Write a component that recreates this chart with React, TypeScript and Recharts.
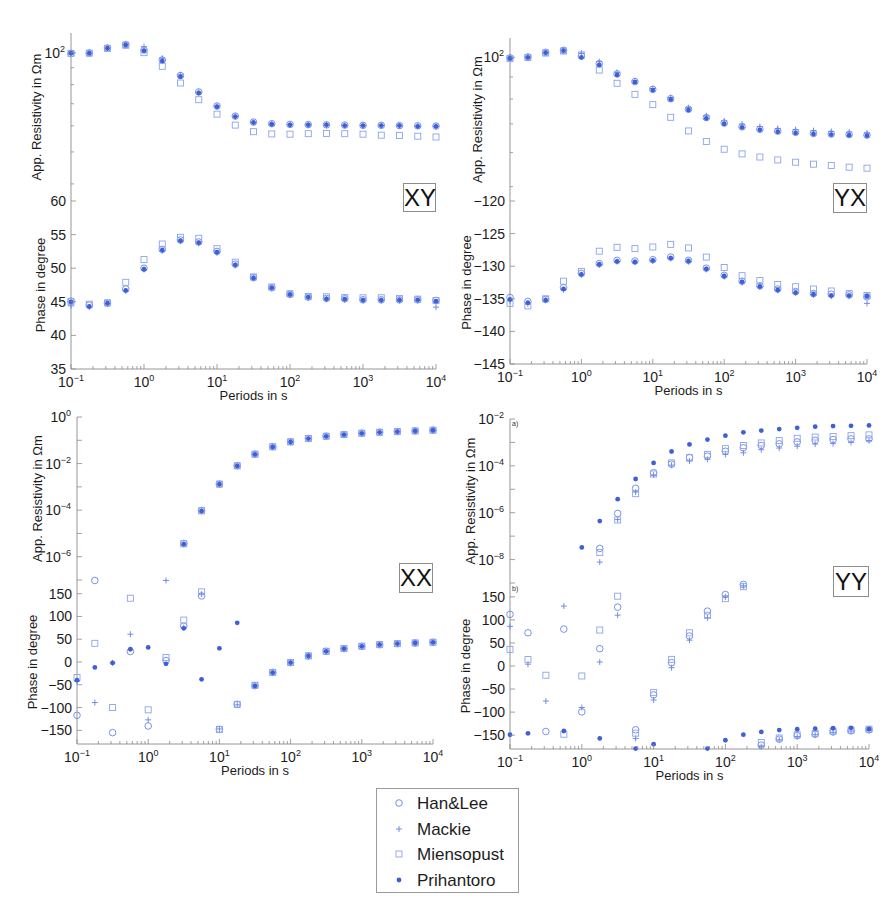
import React from 'react';
import { ScatterChart, Scatter, XAxis, YAxis } from 'recharts';

const FONT = '"Liberation Sans", Arial, Helvetica, sans-serif';
const AXIS_COLOR = '#8a8a8a';
const TEXT_COLOR = '#1c1c1c';

const COLORS = {
  hanLee: '#6a86e6',
  mackie: '#6381e6',
  miensopust: '#8ba3ee',
  prihantoro: '#3f5fd6',
};

// periods (s), 4 per decade
const periods = [0.1, 0.178, 0.316, 0.562, 1, 1.78, 3.16, 5.62, 10, 17.8, 31.6, 56.2, 100, 178, 316, 562, 1000, 1780, 3160, 5620, 10000];
const periodMajorTicks = [0.1, 1, 10, 100, 1000, 10000];

// ---- XY ----
const xyRhoHanLee = [99.4, 99.8, 103.3, 105.7, 101.8, 95.0, 85.2, 76.0, 68.9, 64.2, 61.6, 60.9, 60.6, 60.5, 60.4, 60.3, 60.2, 60.2, 60.1, 60.0, 59.9];
const xyRhoMackie = [99.5, 99.7, 103.2, 105.9, 104.3, 96.2, 85.6, 75.8, 68.8, 64.1, 61.5, 60.8, 60.5, 60.4, 60.3, 60.2, 60.1, 60.1, 60.0, 59.9, 59.8];
const xyRhoMiensopust = [99.5, 99.6, 103.0, 105.3, 100.0, 90.9, 80.9, 72.0, 65.1, 60.3, 57.6, 56.7, 56.6, 56.8, 56.9, 56.8, 56.6, 56.2, 56.1, 55.8, 55.5];
const xyRhoPrihantoro = [99.6, 99.6, 103.1, 105.5, 101.4, 94.4, 84.6, 75.5, 68.6, 64.0, 61.4, 60.7, 60.4, 60.4, 60.4, 60.1, 60.1, 60.1, 60.1, 59.8, 59.8];

const xyPhaseHanLee = [45.1, 44.5, 44.8, 46.9, 50.0, 52.8, 54.2, 53.9, 52.5, 50.6, 48.6, 47.1, 46.1, 45.7, 45.5, 45.45, 45.3, 45.3, 45.3, 45.3, 45.2];
const xyPhaseMackie = [44.4, 44.2, 44.7, 46.6, 49.8, 52.6, 54.0, 53.7, 52.3, 50.4, 48.5, 47.0, 46.0, 45.6, 45.4, 45.3, 45.2, 45.2, 45.2, 45.2, 44.2];
const xyPhaseMiensopust = [45.0, 44.65, 44.85, 47.9, 51.3, 53.6, 54.6, 54.45, 52.9, 50.9, 48.7, 47.2, 46.2, 45.8, 45.75, 45.65, 45.6, 45.6, 45.5, 45.4, 45.2];
const xyPhasePrihantoro = [45.0, 44.3, 44.8, 46.7, 49.85, 52.7, 54.1, 53.8, 52.4, 50.5, 48.55, 47.1, 46.1, 45.7, 45.45, 45.4, 45.25, 45.25, 45.3, 45.3, 45.1];

// ---- YX ----
const yxRhoHanLee = [99.7, 100.2, 102.7, 103.8, 100.6, 96.6, 91.5, 87.8, 84.2, 80.1, 75.7, 72.4, 70.3, 68.9, 68.0, 67.3, 66.9, 66.5, 66.3, 66.1, 65.9];
const yxRhoMackie = [99.6, 100.1, 102.6, 103.9, 102.2, 97.7, 92.2, 88.2, 84.6, 80.6, 76.3, 73.1, 71.1, 69.9, 69.0, 68.3, 67.9, 67.5, 67.2, 67.0, 66.6];
const yxRhoMiensopust = [99.3, 99.9, 102.3, 103.4, 101.3, 93.4, 87.0, 82.0, 77.6, 72.5, 67.4, 63.7, 61.1, 59.6, 58.6, 57.7, 57.0, 56.4, 56.0, 55.5, 55.2];
const yxRhoPrihantoro = [99.5, 100, 102.5, 103.6, 100, 96.0, 91.0, 87.5, 83.9, 79.8, 75.4, 72.1, 70.0, 68.7, 67.8, 67.1, 66.7, 66.3, 66.1, 65.9, 65.7];

const yxPhaseHanLee = [-134.8, -135.4, -135.1, -133.3, -131.1, -129.6, -129.1, -129.2, -129.0, -128.6, -129.1, -130.3, -131.4, -132.3, -133.0, -133.5, -133.9, -134.2, -134.3, -134.4, -134.7];
const yxPhaseMackie = [-135.3, -135.8, -135.2, -133.6, -131.3, -129.8, -129.3, -129.4, -129.2, -128.8, -129.3, -130.5, -131.6, -132.5, -133.2, -133.7, -134.1, -134.4, -134.6, -134.6, -135.7];
const yxPhaseMiensopust = [-135.7, -136.1, -135.0, -132.3, -130.8, -127.7, -127.1, -127.3, -127.05, -126.65, -127.2, -128.6, -130.2, -131.45, -132.2, -132.8, -133.15, -133.5, -133.8, -134.2, -134.5];
const yxPhasePrihantoro = [-135.1, -135.6, -135.2, -133.5, -131.25, -129.7, -129.25, -129.35, -129.1, -128.75, -129.2, -130.4, -131.5, -132.4, -133.1, -133.65, -134.05, -134.3, -134.5, -134.5, -134.6];

// ---- XX ----
const xxRhoHanLee = [null, null, null, null, null, null, 3.7e-6, 9.6e-5, 1.32e-3, 8.1e-3, 0.0255, 0.053, 0.086, 0.12, 0.15, 0.177, 0.203, 0.223, 0.238, 0.253, 0.273];
const xxRhoMackie = [null, null, null, null, null, null, 3.4e-6, 9.1e-5, 1.28e-3, 7.8e-3, 0.0248, 0.0515, 0.0845, 0.117, 0.147, 0.174, 0.199, 0.219, 0.234, 0.249, 0.268];
const xxRhoMiensopust = [null, null, null, null, null, null, 3.6e-6, 9.4e-5, 1.31e-3, 8.0e-3, 0.0252, 0.0525, 0.0855, 0.119, 0.149, 0.176, 0.201, 0.221, 0.236, 0.251, 0.271];
const xxRhoPrihantoro = [null, null, null, null, null, null, 3.5e-6, 9.3e-5, 1.3e-3, 7.9e-3, 0.025, 0.052, 0.085, 0.118, 0.148, 0.175, 0.2, 0.22, 0.235, 0.25, 0.27];

const xxPhaseHanLee = [-117, 179, -155, 23, -140.5, 3, 79, 145, -148, -93, -52, -23, -1.5, 13.2, 23.4, 29.3, 34.4, 38, 40.2, 41.7, 43.2];
const xxPhaseMackie = [-42, -89, -2, 61, -127, 179, 76, 149, -147, -94, -52.5, -23.4, -1.8, 13, 23.2, 29.1, 34.2, 37.8, 40, 41.5, 43];
const xxPhaseMiensopust = [-34, 41, -100, 140, -105, 10, 92, 154, -148, -93, -51, -22.8, -1.2, 13.5, 23.6, 29.5, 34.6, 38.2, 40.4, 41.9, 43.4];
const xxPhasePrihantoro = [-40, -12, -2, 28, 32, -4, 74, -38, 30, 86, -52.5, -23.4, -1.5, 13.2, 23.4, 29.3, 34.4, 38, 40.2, 41.7, 43.2];

// ---- YY ----
const yyRhoHanLee = [null, null, null, null, null, 3.0e-8, 9.3e-7, 1.1e-5, 5.1e-5, 1.18e-4, 2.3e-4, 2.6e-4, 4.2e-4, 5.9e-4, 7.4e-4, 8.7e-4, 1.05e-3, 1.23e-3, 1.32e-3, 1.41e-3, 1.41e-3];
const yyRhoMackie = [null, null, null, null, null, 7.8e-9, 5.1e-7, 7.6e-6, 4.1e-5, 1.07e-4, 1.62e-4, 1.9e-4, 3.1e-4, 3.6e-4, 4.9e-4, 5.75e-4, 6.9e-4, 8.5e-4, 8.9e-4, 1.0e-3, 1.2e-3];
const yyRhoMiensopust = [null, null, null, null, null, 2.0e-8, 4.9e-7, 6.5e-6, 4.5e-5, 1.34e-4, 2.2e-4, 3.1e-4, 5.4e-4, 7.4e-4, 9.5e-4, 1.2e-3, 1.5e-3, 1.7e-3, 1.8e-3, 1.95e-3, 2.1e-3];
const yyRhoPrihantoro = [null, null, null, null, 3.3e-8, 4.4e-7, 3.8e-6, 2.75e-5, 1.34e-4, 4.1e-4, 8.2e-4, 1.32e-3, 1.95e-3, 2.7e-3, 3.2e-3, 3.7e-3, 4.2e-3, 4.7e-3, 5.0e-3, 5.1e-3, 5.3e-3];

const yyPhaseHanLee = [112, 72, -142, 80, -99.5, 37.5, 127.6, -138.4, -62.7, 7.2, 65, 119, 155, 177, -171.6, -158.6, -151, -148, -143, -140.6, -138.4];
const yyPhaseMackie = [86, 4, -76, 130, -90, 8.7, 110.3, -157, -73.6, -3.6, 56, 104.6, 150, 174, -175, -160, -153, -149, -144, -141, -139];
const yyPhaseMiensopust = [36, 14, -20, -148, -21.6, 78, 151.4, -145.7, -57.7, 14.4, 72, 110, 146, 172, -166, -156, -149, -146, -141, -139, -137];
const yyPhasePrihantoro = [-149, -146, null, -141, null, -157, null, -179, -169.5, null, null, -179, -161, -149, -143, -139, -137, -135.6, -135, -134, -137];

// axis ticks
const xyRhoTicks = [40, 50, 60, 70, 80, 90, 100];
const yxRhoTicks = [50, 60, 70, 80, 90, 100];
const rhoLabelsTop = [100];
const xyPhaseTicks = [35, 40, 45, 50, 55, 60];
const yxPhaseTicks = [-145, -140, -135, -130, -125, -120];
const xxRhoTicks = [1e-7, 1e-6, 1e-5, 1e-4, 1e-3, 1e-2, 1e-1, 1];
const xxRhoLabels = [1e-6, 1e-4, 1e-2, 1];
const yyRhoTicks = [1e-9, 1e-8, 1e-7, 1e-6, 1e-5, 1e-4, 1e-3, 1e-2];
const yyRhoLabels = [1e-8, 1e-6, 1e-4, 1e-2];
const diagPhaseTicks = [-150, -100, -50, 0, 50, 100, 150];

const periodTicks: number[] = [];
periodMajorTicks.forEach((t, i) => {
  periodTicks.push(t);
  if (i < periodMajorTicks.length - 1) {
    for (let m = 2; m <= 9; m++) periodTicks.push(+(t * m).toPrecision(3));
  }
});

const LEFT_W = 80;
const PAD = 10;
const XLAB_H = 40;

type Val = number | null;
type Pt = { x: number; y: number };

const toPts = (vals: Val[]): Pt[] =>
  periods.map((p, i) => ({ x: p, y: vals[i] as number })).filter((d) => d.y !== null && d.y !== undefined);

const isDecade = (v: number) => Math.abs(Math.log10(v) - Math.round(Math.log10(v))) < 1e-6;
const inList = (v: number, list: number[]) => list.some((t) => Math.abs(t - v) <= Math.abs(t) * 1e-6 + 1e-12);
const minus = (v: number) => (v < 0 ? `\u2212${Math.abs(v)}` : `${v}`);

function PowText({ x, y, exp, anchor }: { x: number; y: number; exp: number; anchor: 'middle' | 'end' }) {
  return (
    <text x={x} y={y} textAnchor={anchor} fontSize={14} fill={TEXT_COLOR} fontFamily={FONT}>
      10
      <tspan dy={-6} fontSize={9}>
        {minus(exp)}
      </tspan>
    </text>
  );
}

const makeXTick = (side: 'top' | 'bottom', showLabels: boolean) => (props: any) => {
  const { x, y, payload } = props;
  const v = payload.value as number;
  const major = isDecade(v);
  const len = major ? 5 : 3;
  const dir = side === 'bottom' ? -1 : 1;
  return (
    <g>
      <line x1={x} x2={x} y1={y} y2={y + dir * len} stroke={AXIS_COLOR} strokeWidth={0.8} />
      {showLabels && side === 'bottom' && major ? (
        <PowText x={x} y={y + 18} exp={Math.round(Math.log10(v))} anchor="middle" />
      ) : null}
    </g>
  );
};

interface YCfg {
  log: boolean;
  major: (v: number) => boolean;
  labelled: (v: number) => boolean;
}

const makeYTick = (side: 'left' | 'right', cfg: YCfg) => (props: any) => {
  const { x, y, payload } = props;
  const v = payload.value as number;
  const major = cfg.major(v);
  const len = major ? 5 : 3;
  const dir = side === 'left' ? 1 : -1;
  let label: React.ReactNode = null;
  if (side === 'left' && cfg.labelled(v)) {
    label = cfg.log ? (
      <PowText x={x - 6} y={y + 5} exp={Math.round(Math.log10(v))} anchor="end" />
    ) : (
      <text x={x - 5} y={y + 5} textAnchor="end" fontSize={14} fill={TEXT_COLOR} fontFamily={FONT}>
        {minus(v)}
      </text>
    );
  }
  return (
    <g>
      <line x1={x} x2={x + dir * len} y1={y} y2={y} stroke={AXIS_COLOR} strokeWidth={0.8} />
      {label}
    </g>
  );
};

function YTitle({ px, py, text }: { px: number; py: number; text: string }) {
  return (
    <text x={px} y={py} transform={`rotate(-90 ${px} ${py})`} textAnchor="middle" dominantBaseline="central" fontSize={13} fill={TEXT_COLOR} fontFamily={FONT}>
      {text}
    </text>
  );
}

function XTitle({ px, py }: { px: number; py: number }) {
  return (
    <text x={px} y={py} textAnchor="middle" dominantBaseline="central" fontSize={13} fill={TEXT_COLOR} fontFamily={FONT}>
      Periods in s
    </text>
  );
}

const shapes = {
  hanLee: (p: any) => <circle cx={p.cx} cy={p.cy} r={3.3} fill="none" stroke={COLORS.hanLee} strokeWidth={0.9} />,
  mackie: (p: any) => (
    <path d={`M${p.cx - 3},${p.cy}H${p.cx + 3}M${p.cx},${p.cy - 3}V${p.cy + 3}`} stroke={COLORS.mackie} strokeWidth={0.9} />
  ),
  miensopust: (p: any) => (
    <rect x={p.cx - 3} y={p.cy - 3} width={6} height={6} fill="none" stroke={COLORS.miensopust} strokeWidth={0.9} />
  ),
  prihantoro: (p: any) => <circle cx={p.cx} cy={p.cy} r={2.4} fill={COLORS.prihantoro} />,
};

type SeriesSet = { hanLee: Val[]; mackie: Val[]; miensopust: Val[]; prihantoro: Val[] };
const ORDER: (keyof SeriesSet)[] = ['hanLee', 'mackie', 'miensopust', 'prihantoro'];

interface SubplotProps {
  left: number;
  top: number;
  plotW: number;
  plotH: number;
  log: boolean;
  domain: [number, number];
  ticks: number[];
  major: number[] | 'all';
  labels: number[] | 'all';
  xLabels: boolean;
  title: string;
  titleX: number;
  series: SeriesSet;
}

function Subplot(p: SubplotProps) {
  const w = LEFT_W + p.plotW + PAD;
  const h = PAD + p.plotH + (p.xLabels ? XLAB_H : 0) + PAD;
  const chartLeft = p.left - LEFT_W;
  const cfg: YCfg = {
    log: p.log,
    major: (v) => (p.major === 'all' ? true : inList(v, p.major)),
    labelled: (v) => (p.labels === 'all' ? true : inList(v, p.labels)),
  };
  const yCommon = {
    type: 'number' as const,
    dataKey: 'y',
    scale: (p.log ? 'log' : 'linear') as any,
    domain: p.domain,
    ticks: p.ticks,
    interval: 0 as const,
    tickSize: 0,
    tickMargin: 0,
    tickLine: false,
    axisLine: { stroke: AXIS_COLOR, strokeWidth: 0.9 },
  };
  const xCommon = {
    type: 'number' as const,
    dataKey: 'x',
    scale: 'log' as any,
    domain: [0.1, 10000] as [number, number],
    ticks: periodTicks,
    interval: 0 as const,
    tickSize: 0,
    tickMargin: 0,
    tickLine: false,
    axisLine: { stroke: AXIS_COLOR, strokeWidth: 0.9 },
  };
  return (
    <div style={{ position: 'absolute', left: chartLeft, top: p.top - PAD }}>
      <ScatterChart width={w} height={h} margin={{ top: PAD, right: PAD, bottom: PAD, left: 0 }}>
        <XAxis
          {...xCommon}
          xAxisId="b"
          orientation="bottom"
          height={p.xLabels ? XLAB_H : 0}
          tick={makeXTick('bottom', p.xLabels)}
          label={p.xLabels ? <XTitle px={LEFT_W + p.plotW / 2} py={PAD + p.plotH + 26} /> : undefined}
        />
        <XAxis {...xCommon} xAxisId="t" orientation="top" height={0} tick={makeXTick('top', false)} />
        <YAxis
          {...yCommon}
          yAxisId="l"
          orientation="left"
          width={LEFT_W}
          tick={makeYTick('left', cfg)}
          label={<YTitle px={p.titleX - chartLeft} py={PAD + p.plotH / 2} text={p.title} />}
        />
        <YAxis {...yCommon} yAxisId="r" orientation="right" width={0} tick={makeYTick('right', cfg)} />
        {ORDER.map((k) => (
          <Scatter
            key={k}
            name={k}
            xAxisId="b"
            yAxisId="l"
            data={toPts(p.series[k])}
            shape={shapes[k]}
            isAnimationActive={false}
          />
        ))}
      </ScatterChart>
    </div>
  );
}

function Tag({ left, top, w, h, text }: { left: number; top: number; w: number; h: number; text: string }) {
  return (
    <div
      style={{
        position: 'absolute',
        left,
        top,
        width: w,
        height: h,
        boxSizing: 'border-box',
        border: '1px solid #8c8c8c',
        background: '#fff',
        fontSize: 24,
        lineHeight: `${h - 2}px`,
        textAlign: 'center',
        color: '#111',
        fontFamily: FONT,
      }}
    >
      {text}
    </div>
  );
}

const legendNames = ['Han&Lee', 'Mackie', 'Miensopust', 'Prihantoro'];

function LegendBox() {
  const rows = [14, 40, 65, 91];
  return (
    <div style={{ position: 'absolute', left: 376, top: 788, width: 143, height: 105, boxSizing: 'border-box', border: '1px solid #9a9a9a', background: '#fff' }}>
      <svg width={141} height={103} style={{ position: 'absolute', left: 0, top: 0 }}>
        {ORDER.map((k, i) => (
          <g key={k}>
            {shapes[k]({ cx: 22, cy: rows[i] })}
            <text x={40} y={rows[i] + 6} fontSize={17} fill={TEXT_COLOR} fontFamily={FONT}>
              {legendNames[i]}
            </text>
          </g>
        ))}
      </svg>
    </div>
  );
}

const xySeries = {
  rho: { hanLee: xyRhoHanLee, mackie: xyRhoMackie, miensopust: xyRhoMiensopust, prihantoro: xyRhoPrihantoro },
  phase: { hanLee: xyPhaseHanLee, mackie: xyPhaseMackie, miensopust: xyPhaseMiensopust, prihantoro: xyPhasePrihantoro },
};
const yxSeries = {
  rho: { hanLee: yxRhoHanLee, mackie: yxRhoMackie, miensopust: yxRhoMiensopust, prihantoro: yxRhoPrihantoro },
  phase: { hanLee: yxPhaseHanLee, mackie: yxPhaseMackie, miensopust: yxPhaseMiensopust, prihantoro: yxPhasePrihantoro },
};
const xxSeries = {
  rho: { hanLee: xxRhoHanLee, mackie: xxRhoMackie, miensopust: xxRhoMiensopust, prihantoro: xxRhoPrihantoro },
  phase: { hanLee: xxPhaseHanLee, mackie: xxPhaseMackie, miensopust: xxPhaseMiensopust, prihantoro: xxPhasePrihantoro },
};
const yySeries = {
  rho: { hanLee: yyRhoHanLee, mackie: yyRhoMackie, miensopust: yyRhoMiensopust, prihantoro: yyRhoPrihantoro },
  phase: { hanLee: yyPhaseHanLee, mackie: yyPhaseMackie, miensopust: yyPhaseMiensopust, prihantoro: yyPhasePrihantoro },
};

const RHO_TITLE = 'App. Resistivity in \u03A9m';
const PHASE_TITLE = 'Phase in degree';

export default function App() {
  return (
    <div style={{ position: 'absolute', left: 0, top: 0, width: 896, height: 916, background: '#fff', overflow: 'hidden' }}>
      {/* XY */}
      <Subplot left={71} top={33} plotW={365} plotH={168} log domain={[35.5, 114.7]} ticks={xyRhoTicks} major={rhoLabelsTop} labels={rhoLabelsTop} xLabels={false} title={RHO_TITLE} titleX={36} series={xySeries.rho} />
      <Subplot left={71} top={201} plotW={365} plotH={168} log={false} domain={[35, 60]} ticks={xyPhaseTicks} major="all" labels="all" xLabels title={PHASE_TITLE} titleX={40} series={xySeries.phase} />
      {/* YX */}
      <Subplot left={510} top={38} plotW={357} plotH={163} log domain={[46.3, 110.9]} ticks={yxRhoTicks} major={rhoLabelsTop} labels={rhoLabelsTop} xLabels={false} title={RHO_TITLE} titleX={477} series={yxSeries.rho} />
      <Subplot left={510} top={201} plotW={357} plotH={163} log={false} domain={[-145, -120]} ticks={yxPhaseTicks} major="all" labels="all" xLabels title={PHASE_TITLE} titleX={466} series={yxSeries.phase} />
      {/* XX */}
      <Subplot left={77} top={417} plotW={356} plotH={163} log domain={[1e-7, 1]} ticks={xxRhoTicks} major="all" labels={xxRhoLabels} xLabels={false} title={RHO_TITLE} titleX={37} series={xxSeries.rho} />
      <Subplot left={77} top={580} plotW={356} plotH={164} log={false} domain={[-180, 180]} ticks={diagPhaseTicks} major="all" labels="all" xLabels title={PHASE_TITLE} titleX={32} series={xxSeries.phase} />
      {/* YY */}
      <Subplot left={510} top={419} plotW={359} plotH={164} log domain={[1e-9, 1e-2]} ticks={yyRhoTicks} major="all" labels={yyRhoLabels} xLabels={false} title={RHO_TITLE} titleX={470} series={yySeries.rho} />
      <Subplot left={510} top={583} plotW={359} plotH={166} log={false} domain={[-180, 180]} ticks={diagPhaseTicks} major="all" labels="all" xLabels title={PHASE_TITLE} titleX={465} series={yySeries.phase} />

      <span style={{ position: 'absolute', left: 512, top: 420, fontSize: 7, color: '#333', fontFamily: FONT }}>a)</span>
      <span style={{ position: 'absolute', left: 512, top: 585, fontSize: 7, color: '#333', fontFamily: FONT }}>b)</span>

      <Tag left={403} top={183} w={33} h={29} text="XY" />
      <Tag left={833} top={183} w={34} h={30} text="YX" />
      <Tag left={399} top={563} w={34} h={30} text="XX" />
      <Tag left={833} top={566} w={36} h={31} text="YY" />

      <LegendBox />
    </div>
  );
}
